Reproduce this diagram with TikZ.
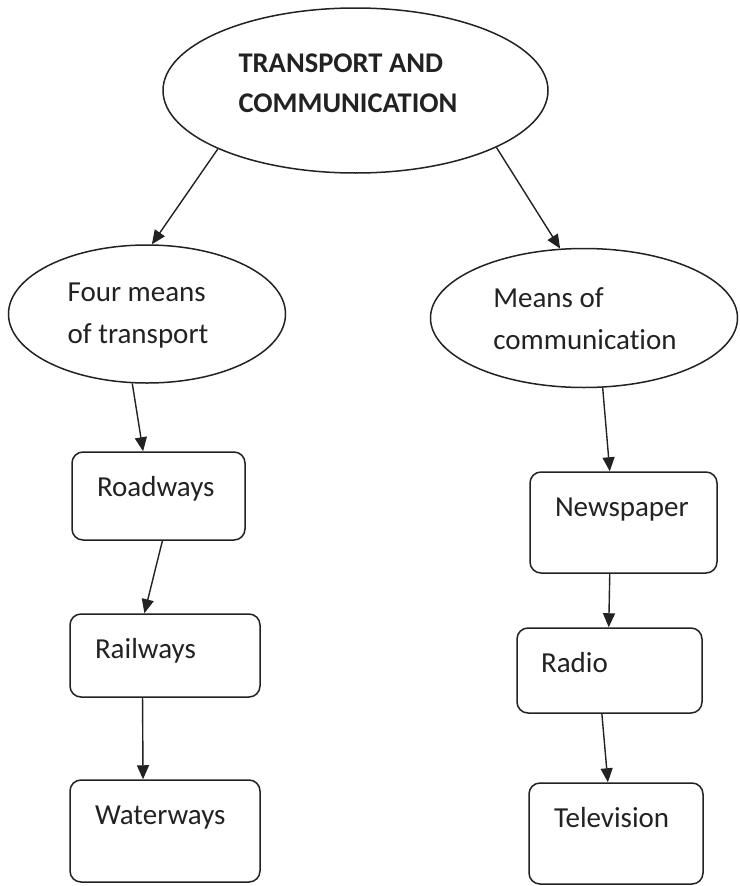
\documentclass[tikz,border=0pt]{standalone}
\usepackage{fontspec}
\setmainfont{Carlito}[Ligatures={NoCommon,NoContextual},RawFeature={-liga;-clig}]
\usetikzlibrary{shapes.geometric,arrows.meta}
\definecolor{ink}{HTML}{222222}
\begin{document}
\begin{tikzpicture}[x=1pt,y=-1pt,
  every node/.style={text=ink},
  bubble/.style={ellipse,draw=ink,line width=1.5pt,inner sep=0pt},
  bubbletext/.style={inner sep=0pt,align=left,font=\fontsize{29}{42}\selectfont},
  headtext/.style={inner sep=0pt,align=left,font=\fontsize{28.5}{40}\selectfont\bfseries},
  card/.style={draw=ink,line width=1.5pt,rounded corners=11pt,
    inner xsep=25pt,inner ysep=0pt,align=left,text height=44pt,
    font=\fontsize{29}{35}\selectfont},
  link/.style={draw=ink,line width=1.4pt,-{Triangle[length=14pt,width=12pt]}}
]
\useasboundingbox[fill=white] (0,0) rectangle (739,886);

% ellipses
\node[bubble,minimum width=385pt,minimum height=165pt] (top) at (355.5,90.5) {};
\node[headtext] (toptxt) at (348,83) {TRANSPORT AND\\COMMUNICATION};

\node[bubble,minimum width=277pt,minimum height=138pt] (lt) at (147,314) {};
\node[bubbletext] (lttxt) at (138,316) {Four means\\of transport};

\node[bubble,minimum width=307pt,minimum height=139pt] (rt) at (584,318) {};
\node[bubbletext] (rttxt) at (585,318.5) {Means of\\communication};

% left column
\node[card,text width=123pt,text depth=44pt] (road)  at (158.5,496)   {Roadways};
\node[card,text width=140pt,text depth=39pt] (rail)  at (165,655.5)   {Railways};
\node[card,text width=140pt,text depth=58pt] (water) at (165,831)     {Waterways};

% right column
\node[card,text width=137pt,text depth=57pt] (news)  at (623.5,522.5) {Newspaper};
\node[card,text width=137pt,text depth=41pt,inner xsep=24pt] (radio) at (609.5,670.5) {Radio};
\node[card,text width=124pt,text depth=57pt] (tv)    at (616,833.5)   {Television};

% connectors
\draw[link] (top.203) -- (lt.86);
\draw[link] (top.338) -- (rt.109);
\draw[link] (lt.258) -- (road.109);
\draw[link] (road.275) -- (rail.116);
\draw[link] (rail.242) -- (water.113);
\draw[link] (rt.285) -- (news.105);
\draw[link] (news.255) -- (radio.91);
\draw[link] (radio.260) -- (tv.99);
\end{tikzpicture}
\end{document}
